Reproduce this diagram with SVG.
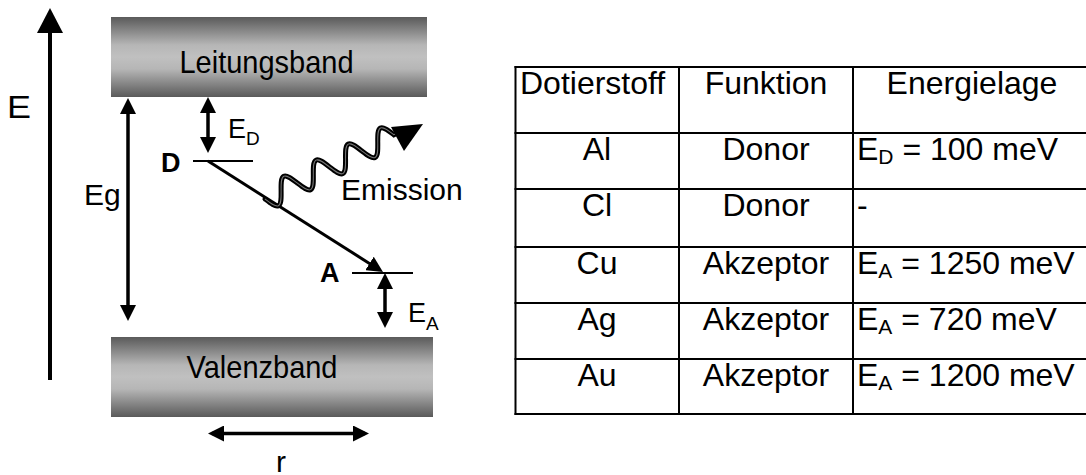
<svg xmlns="http://www.w3.org/2000/svg" width="1086" height="475" viewBox="0 0 1086 475">
<style>
text{font-family:"Liberation Sans",Arial,sans-serif;fill:#000}
.lbl{font-size:30px}
.band{font-size:29px}
.bold{font-size:27px;font-weight:bold}
.sym{font-size:27px}
.tb{font-size:32px}
.ln{stroke:#000;fill:none}
.grid{stroke:#000;stroke-width:2;fill:none}
</style>
<defs>
<linearGradient id="bandGrad" x1="0" y1="0" x2="0" y2="1">
<stop offset="0" stop-color="#5a5a5a"/>
<stop offset="0.35" stop-color="#b6b6b6"/>
<stop offset="0.5" stop-color="#c0c0c0"/>
<stop offset="0.65" stop-color="#b6b6b6"/>
<stop offset="1" stop-color="#5a5a5a"/>
</linearGradient>
<marker id="ah" markerUnits="userSpaceOnUse" viewBox="0 0 16 16" markerWidth="16" markerHeight="16" refX="12" refY="8" orient="auto-start-reverse">
<path d="M0,0 L16,8 L0,16 z" fill="#000"/>
</marker>
<marker id="ahBig" markerUnits="userSpaceOnUse" viewBox="0 0 25 26" markerWidth="25" markerHeight="26" refX="20" refY="13" orient="auto">
<path d="M0,0 L25,13 L0,26 z" fill="#000"/>
</marker>
<path id="wave" d="M0,0 C3,6.2 5.7,12 9,12 C12.3,12 15,6.2 18,0 C21,-6.2 23.7,-12 27,-12 C30.3,-12 33,-6.2 36,0 C39,6.2 41.7,12 45,12 C48.3,12 51,6.2 54,0 C57,-6.2 59.7,-12 63,-12 C66.3,-12 69,-6.2 72,0 C75,6.2 77.7,12 81,12 C84.3,12 87,6.2 90,0 C93,-6.2 95.7,-12 99,-12 C102.3,-12 105,-6.2 108,0 C111,6.2 113.7,12 117,12 C120.3,12 123,6.2 126,0 C129,-6.2 131.7,-12 135,-12 C138.3,-12 141,-6.2 144,0 L148,0"/>
</defs>

<g id="leitungsband">
<rect x="111" y="17" width="316" height="80" fill="url(#bandGrad)"/>
<text class="band" transform="translate(266.5,73) scale(1,1.08)" text-anchor="middle">Leitungsband</text>
</g>
<g id="valenzband">
<rect x="111" y="337" width="322" height="80" fill="url(#bandGrad)"/>
<text class="band" transform="translate(262,378) scale(1,1.08)" text-anchor="middle">Valenzband</text>
</g>

<g id="donor-level">
<line class="ln" x1="193" y1="161" x2="253" y2="161" stroke-width="2"/>
<text class="bold" x="161" y="172">D</text>
</g>
<g id="acceptor-level">
<line class="ln" x1="352" y1="273" x2="413" y2="273" stroke-width="2"/>
<text class="bold" x="320" y="282">A</text>
</g>

<g id="connectors">
<line class="ln" x1="50" y1="380" x2="50" y2="13" stroke-width="4" marker-end="url(#ahBig)"/>
<line class="ln" x1="128" y1="102" x2="128" y2="317" stroke-width="3.5" marker-start="url(#ah)" marker-end="url(#ah)"/>
<line class="ln" x1="208" y1="101" x2="208" y2="149" stroke-width="3.5" marker-start="url(#ah)" marker-end="url(#ah)"/>
<line class="ln" x1="385" y1="277" x2="385" y2="324" stroke-width="3.5" marker-start="url(#ah)" marker-end="url(#ah)"/>
<line class="ln" x1="212" y1="433.5" x2="365" y2="433.5" stroke-width="3.5" marker-start="url(#ah)" marker-end="url(#ah)"/>
<line class="ln" x1="208" y1="161" x2="379.6" y2="269.9" stroke-width="3" marker-end="url(#ah)"/>
<g id="emission-wave">
<use href="#wave" transform="translate(265,199) rotate(-26.5)" stroke="#000" stroke-width="5" fill="none" stroke-linecap="round"/>
<use href="#wave" transform="translate(265,199) rotate(-26.5)" stroke="#777" stroke-width="1" fill="none"/>
<polygon points="391,127 423,124 404,151" fill="#000"/>
</g>
</g>

<g id="labels">
<text x="7" y="118" font-size="32" textLength="24" lengthAdjust="spacingAndGlyphs">E</text>
<text class="lbl" x="84" y="205">Eg</text>
<text class="sym" x="228" y="138">E<tspan font-size="19" dy="7">D</tspan></text>
<text class="lbl" x="341" y="200">Emission</text>
<text class="sym" x="408" y="322">E<tspan font-size="19" dy="8">A</tspan></text>
<text class="lbl" x="276" y="472">r</text>
</g>

<g id="table">
<line class="grid" x1="515.5" y1="66" x2="515.5" y2="415"/>
<line class="grid" x1="679" y1="66" x2="679" y2="415"/>
<line class="grid" x1="853" y1="66" x2="853" y2="415"/>
<line class="grid" x1="514.5" y1="67" x2="1086" y2="67"/>
<line class="grid" x1="514.5" y1="133" x2="1086" y2="133"/>
<line class="grid" x1="514.5" y1="189" x2="1086" y2="189"/>
<line class="grid" x1="514.5" y1="247" x2="1086" y2="247"/>
<line class="grid" x1="514.5" y1="303" x2="1086" y2="303"/>
<line class="grid" x1="514.5" y1="359" x2="1086" y2="359"/>
<line class="grid" x1="514.5" y1="414" x2="1086" y2="414"/>
<text class="tb" x="520" y="94">Dotierstoff</text>
<text class="tb" x="766" y="94" text-anchor="middle">Funktion</text>
<text class="tb" x="972" y="94" text-anchor="middle">Energielage</text>
<text class="tb" x="597" y="160" text-anchor="middle">Al</text>
<text class="tb" x="766" y="160" text-anchor="middle">Donor</text>
<text class="tb" x="857" y="160">E<tspan font-size="21" dy="4">D</tspan><tspan dy="-4"> = 100 meV</tspan></text>
<text class="tb" x="597" y="216" text-anchor="middle">Cl</text>
<text class="tb" x="766" y="216" text-anchor="middle">Donor</text>
<text class="tb" x="857" y="216">-</text>
<text class="tb" x="597" y="274" text-anchor="middle">Cu</text>
<text class="tb" x="766" y="274" text-anchor="middle">Akzeptor</text>
<text class="tb" x="857" y="274">E<tspan font-size="21" dy="4">A</tspan><tspan dy="-4"> = 1250 meV</tspan></text>
<text class="tb" x="597" y="330" text-anchor="middle">Ag</text>
<text class="tb" x="766" y="330" text-anchor="middle">Akzeptor</text>
<text class="tb" x="857" y="330">E<tspan font-size="21" dy="4">A</tspan><tspan dy="-4"> = 720 meV</tspan></text>
<text class="tb" x="597" y="386" text-anchor="middle">Au</text>
<text class="tb" x="766" y="386" text-anchor="middle">Akzeptor</text>
<text class="tb" x="857" y="386">E<tspan font-size="21" dy="4">A</tspan><tspan dy="-4"> = 1200 meV</tspan></text>
</g>
</svg>
